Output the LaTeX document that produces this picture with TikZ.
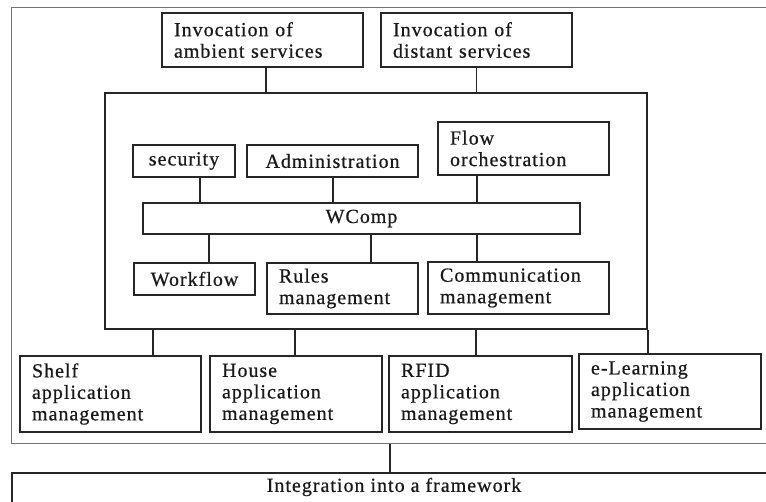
\documentclass[tikz,border=0pt]{standalone}
\usepackage{fontspec}
\setmainfont{Liberation Serif}[LetterSpace=5, FakeBold=0.6]
\begin{document}
\begin{tikzpicture}[x=1pt,y=-1pt,
  every node/.style={font=\fontsize{20}{21.5}\selectfont, text=black!90},
  box/.style={draw=black!85, line width=1.8pt, inner xsep=12pt, inner ysep=0pt, align=left},
  sbox/.style={draw=black!85, line width=1.8pt, inner sep=0pt, align=center},
  conn/.style={draw=black!85, line width=1.8pt},
  framebox/.style={draw=black!55, line width=1.3pt, inner sep=0pt},
]
\useasboundingbox (0,0) rectangle (766,501);
\clip (0,0) rectangle (766,501);
% outer frame and integration box (cut by the picture edge)
\node[framebox, anchor=north west, minimum width=820, minimum height=436] (frame) at (11,7) {};
\node[box, anchor=north west, minimum width=820, minimum height=80] (integ) at (11,472) {};
\node (integtext) at (394,487) {Integration into a framework};
% top
\node[box, minimum width=201, minimum height=54, text width=177] (amb) at (262.5,40) {Invocation of\\ambient services};
\node[box, minimum width=191, minimum height=54, text width=167] (dist) at (476.5,40) {Invocation of\\distant services};
% inner container
\node[sbox, minimum width=542, minimum height=236] (inner) at (376,211) {};
\node[sbox, minimum width=102, minimum height=32] (sec) at (184,161) {security};
\node[sbox, minimum width=171, minimum height=32] (adm) at (332.5,161) {Administration};
\node[box, minimum width=171, minimum height=53, text width=147] (flow) at (523.5,148.5) {Flow\\orchestration};
\node[sbox, minimum width=437, minimum height=31] (wcomp) at (361.5,218.5) {WComp};
\node[sbox, minimum width=121, minimum height=32] (wf) at (194.5,279) {Workflow};
\node[box, minimum width=151, minimum height=51, text width=127] (rules) at (342.5,288.5) {Rules\\management};
\node[box, minimum width=181, minimum height=52, text width=157] (comm) at (518.5,288) {Communication\\management};
% applications
\node[box, minimum width=181, minimum height=76, text width=157] (shelf) at (110.5,394) {Shelf\\application\\management};
\node[box, minimum width=172, minimum height=76, text width=148] (house) at (296,394) {House\\application\\management};
\node[box, minimum width=183, minimum height=76, text width=159] (rfid) at (480.5,394) {RFID\\application\\management};
\node[box, minimum width=182, minimum height=75, text width=158] (elearn) at (670,391.5) {e-Learning\\application\\management};
% connectors
\draw[conn] (amb.south -| 266,0) -- (inner.north -| 266,0);
\draw[conn] (dist.south) -- (dist.south |- inner.north);
\draw[conn] (sec.south -| 200,0) -- (wcomp.north -| 200,0);
\draw[conn] (adm.south -| 333,0) -- (wcomp.north -| 333,0);
\draw[conn] (flow.south -| 477,0) -- (wcomp.north -| 477,0);
\draw[conn] (wcomp.south -| 209,0) -- (wf.north -| 209,0);
\draw[conn] (wcomp.south -| 371,0) -- (rules.north -| 371,0);
\draw[conn] (wcomp.south -| 477,0) -- (comm.north -| 477,0);
\draw[conn] (inner.south -| 153,0) -- (shelf.north -| 153,0);
\draw[conn] (inner.south -| 295,0) -- (house.north -| 295,0);
\draw[conn] (inner.south -| 476,0) -- (rfid.north -| 476,0);
\draw[conn] (inner.south east) -- (inner.south east |- elearn.north);
\draw[conn] (frame.south -| 390,0) -- (integ.north -| 390,0);
\end{tikzpicture}
\end{document}
